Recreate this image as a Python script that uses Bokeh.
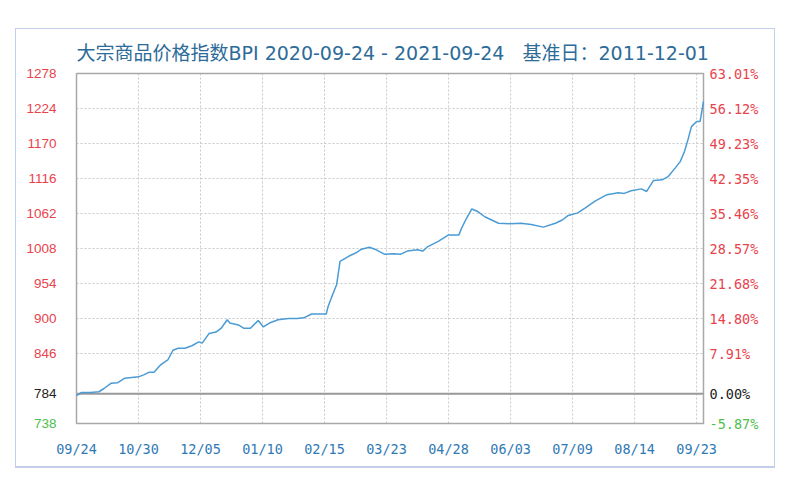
from bokeh.plotting import figure
from bokeh.models import Range1d, FixedTicker, LinearAxis, Label
from bokeh.embed import file_html
from bokeh.resources import INLINE

title_text = ("大宗商品价格指数BPI 2020-09-24 - 2021-09-24" + "\u00a0" * 3
              + "基准日：2011-12-01")
base_value = 784
y_min, y_max = 738, 1278
y_ticks = [846, 900, 954, 1008, 1062, 1116, 1170, 1224, 1278]
x_tick_labels = ["09/24", "10/30", "12/05", "01/10", "02/15", "03/23",
                 "04/28", "06/03", "07/09", "08/14", "09/23"]
x_tick_step = 36
n_days = 364

# day offsets from 2020-09-24 and index values
days = [0, 3, 8, 13, 16, 20, 24, 28, 32, 36, 39, 42, 45, 49, 53, 56, 59, 63, 67, 71,
        73, 77, 81, 84, 87.5, 89, 94, 97, 101, 105.5, 108.5, 112, 117, 123, 128, 132,
        136.5, 141, 145, 146, 149, 151, 153, 158, 162, 165.5, 170, 174, 179, 184, 188,
        192, 198, 201, 204, 210, 216, 222, 223.5, 226.5, 229.5, 233, 237, 245, 252, 258,
        264, 271, 278, 282, 285.5, 291, 295, 301, 308, 314.5, 318, 322, 328, 331, 335,
        340, 343.5, 347.5, 350.5, 353, 355, 357, 360, 362, 363, 364]
values = [781, 786, 786, 787, 792, 800, 801, 808, 809, 810, 813, 817, 817, 829, 836, 851,
          854, 854, 858, 864, 862, 877, 879, 885, 898, 893, 890, 885, 885, 897, 887, 893,
          898, 900, 900, 901, 907, 907, 907, 918, 939, 952, 988, 996, 1001, 1007, 1010,
          1006, 999, 1000, 999, 1004, 1006, 1004, 1011, 1019, 1029, 1029, 1039, 1055,
          1069, 1065, 1057, 1047, 1046, 1047, 1045, 1041, 1047, 1052, 1059, 1063, 1070,
          1081, 1091, 1094, 1093, 1097, 1100, 1096, 1113, 1114, 1119, 1132, 1142, 1158,
          1176, 1196, 1204, 1204, 1219, 1235]

RED = "#e8434d"
GREEN = "#4cbf4c"
BLACK = "#222222"
BLUE_TXT = "#2f79b4"
TITLE_C = "#2d6b98"
LINE_C = "#4b9bd5"
GRID_C = "#c8c8c8"
LEFT_FONT = "Liberation Sans"
MONO_FONT = "DejaVu Sans Mono"
FS = "13.5px"

# canvas geometry: the plotting box inside a frame that fills the whole canvas
W, H = 760, 440
BOX_L, BOX_R, BOX_T, BOX_B = 60, 687, 44, 394
ppx = (BOX_R - BOX_L) / n_days
ppy = (BOX_B - BOX_T) / (y_max - y_min)

p = figure(width=W, height=H, output_backend="svg", toolbar_location=None,
           x_range=Range1d(-BOX_L / ppx, (W - BOX_L) / ppx),
           y_range=Range1d(y_min - (H - BOX_B) / ppy, y_max + BOX_T / ppy),
           min_border=0, x_axis_location=None, y_axis_location=None,
           styles={"margin-left": "15px", "margin-top": "28px",
                   "border": "1px solid #c3cfe9", "border-bottom": "2px solid #c3cfe9"})
p.background_fill_color = "white"
p.border_fill_color = "white"
p.outline_line_color = None
p.xgrid.visible = False
p.ygrid.visible = False

tick_days = list(range(0, x_tick_step * len(x_tick_labels), x_tick_step))


def pct(v):
    return f"{(v / base_value - 1) * 100:.2f}%"


def make_axis(ticks, font, color, standoff, fixed, overrides=None):
    ax = LinearAxis(ticker=FixedTicker(ticks=ticks), fixed_location=fixed)
    if overrides:
        ax.major_label_overrides = overrides
    ax.axis_line_color = None
    ax.major_tick_line_color = None
    ax.minor_tick_line_color = None
    ax.major_tick_in = 0
    ax.major_tick_out = 0
    ax.major_label_text_font = font
    ax.major_label_text_font_size = FS
    ax.major_label_text_color = color
    ax.major_label_standoff = standoff
    return ax


# grid lines, base line and box
vx = tick_days[1:]
p.segment(x0=vx, y0=[y_min] * len(vx), x1=vx, y1=[y_max] * len(vx),
          line_color=GRID_C, line_dash="2 2", line_width=1)
p.segment(x0=[0] * len(y_ticks), y0=y_ticks, x1=[n_days] * len(y_ticks), y1=y_ticks,
          line_color=GRID_C, line_dash="2 2", line_width=1)
p.segment(x0=[0], y0=[base_value], x1=[n_days], y1=[base_value],
          line_color="#999999", line_width=2)
p.quad(left=[0], right=[n_days], bottom=[y_min], top=[y_max], fill_color=None,
       line_color="#a8a8a8", line_width=1.5)

p.line(days, values, line_color=LINE_C, line_width=1.5)

# axes
p.add_layout(make_axis(tick_days, MONO_FONT, BLUE_TXT, 17, y_min,
                       {d: s for d, s in zip(tick_days, x_tick_labels)}), "below")
p.add_layout(make_axis(y_ticks, LEFT_FONT, RED, 20, 0), "left")
p.add_layout(make_axis([base_value], LEFT_FONT, BLACK, 20, 0), "left")
p.add_layout(make_axis([y_min], LEFT_FONT, GREEN, 20, 0), "left")
p.add_layout(make_axis(y_ticks, MONO_FONT, RED, 6, n_days,
                       {t: pct(t) for t in y_ticks}), "right")
p.add_layout(make_axis([base_value], MONO_FONT, BLACK, 6, n_days,
                       {base_value: pct(base_value)}), "right")
p.add_layout(make_axis([y_min], MONO_FONT, GREEN, 6, n_days,
                       {y_min: pct(y_min)}), "right")

p.add_layout(Label(x=0, y=y_max, y_offset=21, text=title_text, text_align="left",
                   text_baseline="middle", text_font="DejaVu Sans, Noto Sans CJK SC",
                   text_font_size="19px", text_color=TITLE_C))

open("out.html", "w").write(file_html(p, INLINE))
